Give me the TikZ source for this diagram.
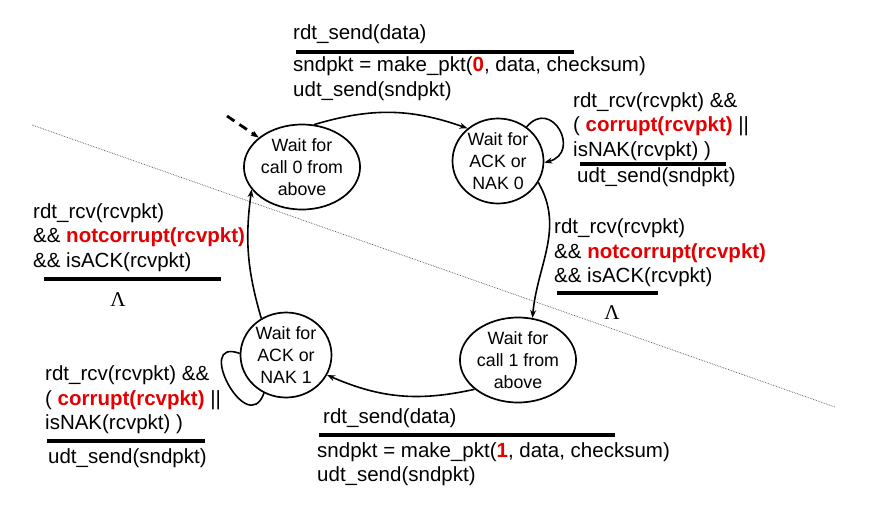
\documentclass[tikz,border=0pt]{standalone}
\usepackage{fontspec}
\setmainfont{Liberation Sans}
\newfontfamily\lambdafont{Liberation Serif}
\usepackage{xcolor}
\definecolor{pktred}{RGB}{228,0,0}
\definecolor{cutgray}{RGB}{80,80,80}
\usepackage{tikz}
\usetikzlibrary{shapes.geometric}
\usetikzlibrary{arrows.meta}
\newcommand{\hl}[1]{\textcolor{pktred}{\textbf{#1}}}
\newcommand{\statefont}{\fontsize{17.8}{22}\selectfont}
\newcommand{\guardfont}{\fontsize{20.5}{24.5}\selectfont}
\newcommand{\nullaction}{{\lambdafont\fontsize{21}{22}\selectfont Λ}}
\tikzset{
    state/.style={draw, ellipse, line width=1.7pt, minimum width=91pt, minimum height=85pt, inner sep=0pt, align=center, font=\statefont},
    guard/.style={anchor=west, align=left, inner sep=0pt, font=\guardfont},
    guardbar/.style={line width=3.2pt},
    trans/.style={line width=1.6pt, ->, >={Stealth[length=8pt, width=6pt]}},
    startarrow/.style={trans, dash pattern=on 9pt off 6pt, line width=2.8pt},
    cutline/.style={densely dotted, cutgray, line width=0.7pt}
}

\begin{document}
\begin{tikzpicture}[x=1pt, y=-1pt]
    \useasboundingbox (0,0) rectangle (869,520);
    \draw[cutline] (32,125) -- (835,407);

    \node[state] (wait0) at (302,167) {Wait for\\call 0 from\\above};
    \node[state] (ack0) at (498,161) {Wait for\\ACK or\\NAK 0};
    \node[state] (wait1) at (518,360) {Wait for\\call 1 from\\above};
    \node[state] (ack1) at (286,355) {Wait for\\ACK or\\NAK 1};
    \coordinate (start) at (227,116);

    \draw[startarrow] (start) -- (wait0);
    \draw[trans] (wait0.74) to[bend left=18] (ack0.133);
    \draw[trans] (ack0.50) to[out=50, in=15, looseness=2.5] (ack0.-2);
    \draw[trans] (ack0.-28) to[out=-60, in=85] (wait1.71);
    \draw[trans] (wait1.-146) to[bend left=18] (ack1.-26);
    \draw[trans, -] (ack1.178) to[out=160, in=-110, looseness=2.7] (ack1.-120);
    \draw[trans] (ack1.124) to[bend left=12] (wait0.-156);

    \node[guard] (send0) at (293,34) {rdt\_send(data)};
    \draw[guardbar] (296,52) -- (574,52);
    \node[guard] (make0) at (293,78.5) {sndpkt = make\_pkt(\hl{0}, data, checksum)\\udt\_send(sndpkt)};

    \node[guard] (nak0) at (573,126.5) {rdt\_rcv(rcvpkt) \&\&\\( \hl{corrupt(rcvpkt)} ||\\isNAK(rcvpkt) )};
    \draw[guardbar] (580,164) -- (726,164);
    \node[guard] (resend0) at (577,177) {udt\_send(sndpkt)};

    \node[guard] (ackd0) at (554,253) {rdt\_rcv(rcvpkt)\\\&\& \hl{notcorrupt(rcvpkt)}\\\&\& isACK(rcvpkt)};
    \draw[guardbar] (557,293) -- (658,293);
    \node (lam0) at (612,313) {\nullaction};

    \node[guard] (ackd1) at (33,237.5) {rdt\_rcv(rcvpkt)\\\&\& \hl{notcorrupt(rcvpkt)}\\\&\& isACK(rcvpkt)};
    \draw[guardbar] (44,279) -- (221,279);
    \node (lam1) at (118,300) {\nullaction};

    \node[guard] (nak1) at (45,400) {rdt\_rcv(rcvpkt) \&\&\\( \hl{corrupt(rcvpkt)} ||\\isNAK(rcvpkt) )};
    \draw[guardbar] (47,441) -- (205,441);
    \node[guard] (resend1) at (48,458) {udt\_send(sndpkt)};

    \node[guard] (send1) at (323,418) {rdt\_send(data)};
    \draw[guardbar] (319,435) -- (615,435);
    \node[guard] (make1) at (317,464) {sndpkt = make\_pkt(\hl{1}, data, checksum)\\udt\_send(sndpkt)};
\end{tikzpicture}
\end{document}
